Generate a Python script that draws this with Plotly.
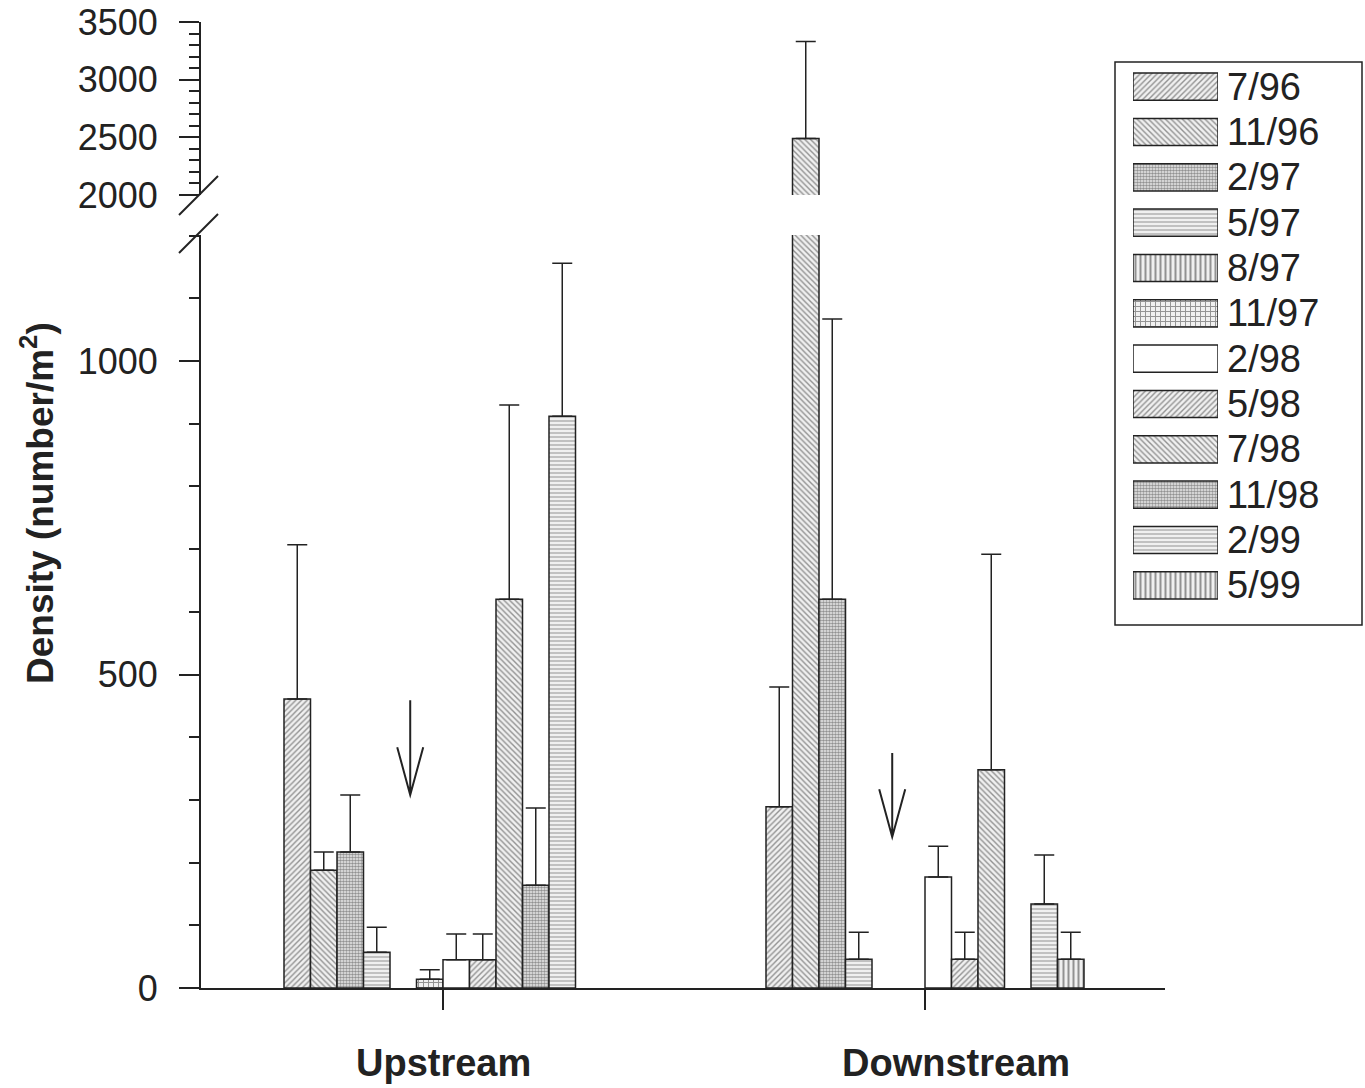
import plotly.graph_objects as go

W, H = 1365, 1088

# ---- data -------------------------------------------------------------
sites = ["Upstream", "Downstream"]
dates = ["7/96", "11/96", "2/97", "5/97", "8/97", "11/97",
         "2/98", "5/98", "7/98", "11/98", "2/99", "5/99"]

# mean density (number/m2) per sampling date; None = no bar
upstream_mean = [461, 188, 217, 57, None, 14, 45, 45, 620, 164, 912, None]
downstream_mean = [289, 2490, 620, 46, None, None, 177, 46, 348, None, 134, 46]

# upper error (1 SE)
upstream_se = [246, 29, 91, 40, None, 15, 41, 41, 310, 123, 244, None]
downstream_se = [191, 840, 447, 43, None, None, 49, 43, 344, None, 78, 43]

# fill pattern for each date
pattern_shape = ["/", "\\", ".", "-", "|", "+", "", "/", "\\", ".", "-", "|"]
pattern_size = [4, 4, 3, 4, 5, 5, 8, 4, 4, 3, 4, 5]
pattern_solid = [0.35, 0.35, 0.6, 0.25, 0.4, 0.35, 0.2, 0.35, 0.35, 0.6, 0.25, 0.4]

# broken y axis limits
LOW_MAX = 1201
HIGH_MIN, HIGH_MAX = 2000, 3500

# ---- layout helpers (pixel -> paper fraction) --------------------------
def px(xp):
    return xp / W

def py(yp):
    return (H - yp) / H

AX_LEFT, AX_RIGHT = 201, 1165      # x axis extent
BASE_Y, LOW_TOP = 988, 235          # lower panel
HIGH_BOT, HIGH_TOP = 195, 22        # upper panel
CAT_PX = [443, 925]                 # category centres

unit = (CAT_PX[1] - CAT_PX[0])      # px per x unit
x_range = [-(CAT_PX[0] - AX_LEFT) / unit, 1 + (AX_RIGHT - CAT_PX[1]) / unit]

BW = 26.5 / unit                    # bar width in x units
n = len(dates)

INK = "#222222"
HATCH = "#333333"
PAPER = "#f0f0f0"
FONT = "Liberation Sans, Arial, sans-serif"

fig = go.Figure()

for i, d in enumerate(dates):
    vals = [upstream_mean[i], downstream_mean[i]]
    errs = [upstream_se[i], downstream_se[i]]
    pat = dict(shape=pattern_shape[i], size=pattern_size[i],
               solidity=pattern_solid[i], fgcolor=HATCH,
               bgcolor=PAPER if pattern_shape[i] else "white")
    offset = -n / 2 * BW + i * BW

    low_err = [e if (v is not None and v <= LOW_MAX) else None
               for v, e in zip(vals, errs)]
    fig.add_trace(go.Bar(
        x=[0, 1], y=vals, xaxis="x", yaxis="y", name=d,
        width=BW, offset=offset,
        marker=dict(color="white", pattern=pat, line=dict(color=INK, width=1.5)),
        error_y=dict(type="data", symmetric=False, array=low_err,
                     arrayminus=[0, 0], color=INK, thickness=1.5, width=10),
        showlegend=False,
    ))

    # values above the break continue in the upper panel
    if any(v is not None and v > LOW_MAX for v in vals):
        hi_vals = [v if (v is not None and v > LOW_MAX) else None for v in vals]
        hi_err = [e if (v is not None and v > LOW_MAX) else None
                  for v, e in zip(vals, errs)]
        fig.add_trace(go.Bar(
            x=[0, 1], y=hi_vals, xaxis="x", yaxis="y2", name=d,
            width=BW, offset=offset,
            marker=dict(color="white", pattern=pat, line=dict(color=INK, width=1.5)),
            error_y=dict(type="data", symmetric=False, array=hi_err,
                         arrayminus=[0, 0], color=INK, thickness=1.5, width=10),
            showlegend=False,
        ))

# legend swatches as a small horizontal bar panel
fig.add_trace(go.Bar(
    x=[1] * n, y=list(range(n)), orientation="h", xaxis="x3", yaxis="y3",
    width=0.6, base=0,
    marker=dict(color="white",
                pattern=dict(shape=pattern_shape, size=pattern_size,
                             solidity=pattern_solid, fgcolor=HATCH,
                             bgcolor=[PAPER if s else "white" for s in pattern_shape]),
                line=dict(color=INK, width=1.5)),
    showlegend=False, hoverinfo="skip",
))

tickfont = dict(family=FONT, size=36, color=INK)

fig.update_layout(
    width=W, height=H,
    margin=dict(l=0, r=0, t=0, b=0, pad=0),
    paper_bgcolor="white", plot_bgcolor="rgba(0,0,0,0)",
    barmode="overlay",
    xaxis=dict(domain=[px(AX_LEFT), px(AX_RIGHT)], range=x_range,
               anchor="y", showline=True, linecolor=INK, linewidth=2,
               ticks="outside", ticklen=20, tickwidth=1.5, tickcolor=INK,
               tickvals=[0, 1], showticklabels=False, automargin=False,
               showgrid=False, zeroline=False),
    yaxis=dict(domain=[py(BASE_Y), py(LOW_TOP)], range=[0, LOW_MAX],
               anchor="x", showline=True, linecolor=INK, linewidth=2,
               ticks="outside", ticklen=20, tickwidth=1.5, tickcolor=INK,
               tickmode="linear", tick0=0, dtick=500,
               minor=dict(ticks="outside", ticklen=10, tickwidth=1.5,
                          tickcolor=INK, dtick=100, showgrid=False),
               tickfont=tickfont, ticklabelstandoff=14, automargin=False,
               showgrid=False, zeroline=False),
    yaxis2=dict(domain=[py(HIGH_BOT), py(HIGH_TOP)], range=[HIGH_MIN, HIGH_MAX],
                anchor="x", showline=True, linecolor=INK, linewidth=2,
                ticks="outside", ticklen=20, tickwidth=1.5, tickcolor=INK,
                tickmode="linear", tick0=0, dtick=500,
                minor=dict(ticks="outside", ticklen=10, tickwidth=1.5,
                           tickcolor=INK, dtick=100, showgrid=False),
                tickfont=tickfont, ticklabelstandoff=14, automargin=False,
                showgrid=False, zeroline=False),
    xaxis3=dict(domain=[px(1133), px(1218)], range=[0, 1], anchor="y3",
                visible=False, fixedrange=True, automargin=False),
    yaxis3=dict(domain=[py(608), py(64)], range=[n - 0.5, -0.5], anchor="x3",
                visible=False, fixedrange=True, automargin=False),
)

# legend frame and labels
fig.add_shape(type="rect", xref="paper", yref="paper",
              x0=px(1115), x1=px(1362), y0=py(625), y1=py(62),
              line=dict(color=INK, width=1.5))
for i, d in enumerate(dates):
    fig.add_annotation(x=px(1225), y=i, xref="paper", yref="y3",
                       text=d, showarrow=False, xanchor="left", yanchor="middle",
                       font=dict(family=FONT, size=38, color=INK))

# axis break marks
for y0, y1 in [(215, 176), (253, 214)]:
    fig.add_shape(type="line", xref="paper", yref="paper",
                  x0=px(179), y0=py(y0), x1=px(218), y1=py(y1),
                  line=dict(color=INK, width=2))

# arrows marking the disturbance
ARROW_X = [-0.068, 0.932]
ARROW_TOP = [459, 375]
ARROW_TIP = [308, 241]
HEAD_DX = 13 / unit
HEAD_DY = 76
for ax_, at, tip in zip(ARROW_X, ARROW_TOP, ARROW_TIP):
    path = (f"M{ax_},{at} L{ax_},{tip} "
            f"M{ax_ - HEAD_DX},{tip + HEAD_DY} L{ax_},{tip} L{ax_ + HEAD_DX},{tip + HEAD_DY}")
    fig.add_shape(type="path", xref="x", yref="y", path=path,
                  line=dict(color=INK, width=2))

# category labels
LABEL_X = [0.0, 1.064]
for lx, s in zip(LABEL_X, sites):
    fig.add_annotation(x=lx, y=py(1063), xref="x", yref="paper",
                       text=f"<b>{s}</b>", showarrow=False,
                       xanchor="center", yanchor="middle",
                       font=dict(family=FONT, size=38, color=INK))

# y axis title
fig.add_annotation(x=px(38), y=py(503), xref="paper", yref="paper",
                   text="<b>Density (number/m<sup>2</sup>)</b>", textangle=-90,
                   showarrow=False, xanchor="center", yanchor="middle",
                   font=dict(family=FONT, size=37, color=INK))

fig.write_html("out.html")
